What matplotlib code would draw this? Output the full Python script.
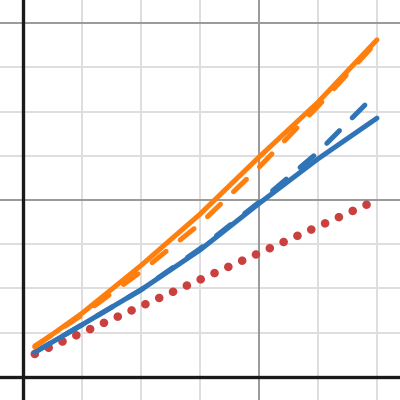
import matplotlib
matplotlib.use('Agg')
import matplotlib.pyplot as plt

# values
x = [0.2, 1, 2, 3, 4, 5, 6]
orange_solid = [0.68, 1.44, 2.52, 3.68, 4.97, 6.21, 7.62]
orange_dashed = [0.70, 1.40, 2.38, 3.46, 4.74, 6.12, 7.58]
blue_solid = [0.56, 1.18, 1.97, 2.87, 3.92, 4.93, 5.85]
blue_dashed = [0.56, 1.18, 1.97, 2.90, 3.95, 5.08, 6.42]
red_dotted = [0.52, 1.0, 1.6, 2.2, 2.8, 3.4, 4.0]

minor_x = [1, 2, 3, 5, 6]
minor_y = [1, 2, 3, 5, 6, 7]
major_x = [4]
major_y = [4, 8]

fig = plt.figure(figsize=(4, 4), dpi=100)
ax = fig.add_axes([0, 0, 1, 1])
ax.set_xlim(-0.39, 6.39)
ax.set_ylim(-0.52, 8.52)
ax.axis('off')

for v in minor_x:
    ax.axvline(v, color='#dedede', lw=1.4, zorder=0)
for v in minor_y:
    ax.axhline(v, color='#dedede', lw=1.4, zorder=0)
for v in major_x:
    ax.axvline(v, color='#999999', lw=1.4, zorder=0)
for v in major_y:
    ax.axhline(v, color='#999999', lw=1.4, zorder=0)
ax.axvline(0, color='#1a1a1a', lw=2.4, zorder=1)
ax.axhline(0, color='#1a1a1a', lw=2.4, zorder=1)

ax.plot(x, red_dotted, color='#c9403e', lw=6.2, linestyle=(0, (0.01, 1.75)),
        dash_capstyle='round', zorder=2)
ax.plot(x, blue_solid, color='#3074b8', lw=3.6, solid_capstyle='round', zorder=3)
ax.plot(x, blue_dashed, color='#3074b8', lw=3.6, linestyle=(0, (3.6, 3.6)),
        dash_capstyle='round', zorder=3)
ax.plot(x, orange_solid, color='#ff7f0e', lw=3.6, solid_capstyle='round', zorder=4)
ax.plot(x, orange_dashed, color='#ff7f0e', lw=3.6, linestyle=(0, (3.6, 3.6)),
        dash_capstyle='round', zorder=4)

fig.savefig('out.png', dpi=100)
